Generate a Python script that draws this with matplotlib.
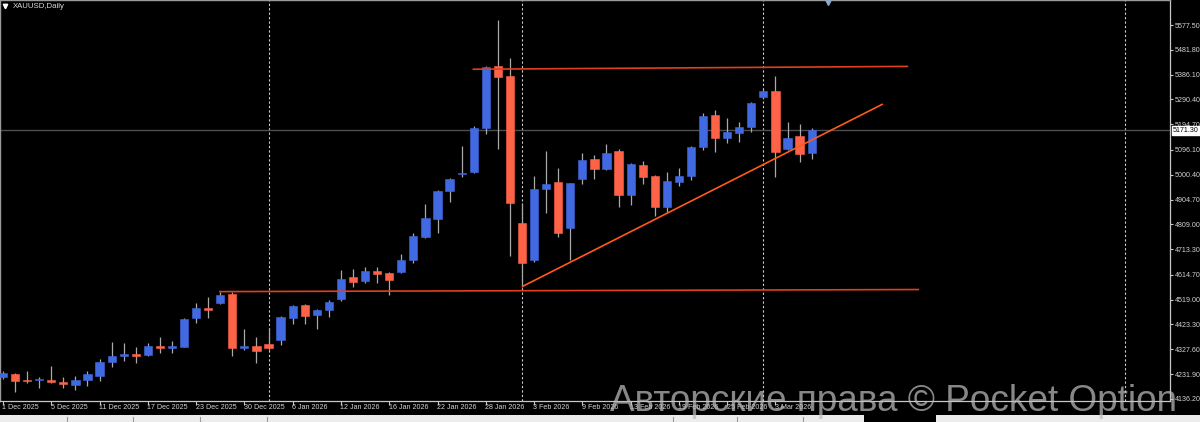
import matplotlib
matplotlib.use('Agg')
import matplotlib.pyplot as plt
import matplotlib.transforms as mtransforms
from matplotlib.patches import Rectangle

# ---------------- data (XAUUSD daily OHLC) ----------------
opens = [4221, 4232, 4206, 4209, 4209, 4200, 4190, 4209, 4225, 4280,
         4303, 4310, 4304, 4340, 4334, 4338, 4447, 4486, 4507, 4540,
         4334, 4339, 4349, 4363, 4450, 4497, 4459, 4479, 4520, 4605,
         4589, 4631, 4621, 4627, 4671, 4762, 4831, 4939, 5002, 5012,
         5179, 5421, 5382, 4816, 4672, 4944, 4971, 4794, 4983, 5060,
         5024, 5092, 4923, 5038, 4996, 4877, 4974, 4997, 5108, 5231,
         5143, 5160, 5186, 5299, 5323, 5101, 5150, 5085]
highs = [4244, 4238, 4245, 4222, 4263, 4222, 4225, 4245, 4289, 4356,
         4353, 4338, 4351, 4376, 4361, 4450, 4505, 4528, 4547, 4547,
         4406, 4374, 4409, 4456, 4498, 4502, 4483, 4518, 4633, 4636,
         4646, 4646, 4627, 4694, 4775, 4888, 4942, 4989, 5111, 5188,
         5420, 5597, 5449, 4890, 4996, 5093, 5025, 4968, 5085, 5076,
         5119, 5098, 5044, 5054, 4999, 5010, 5025, 5111, 5240, 5250,
         5218, 5205, 5282, 5331, 5382, 5205, 5195, 5179]
lows = [4213, 4164, 4197, 4177, 4197, 4177, 4171, 4186, 4207, 4258,
        4284, 4274, 4302, 4312, 4312, 4335, 4430, 4447, 4502, 4302,
        4325, 4276, 4325, 4344, 4425, 4424, 4407, 4453, 4515, 4569,
        4584, 4582, 4538, 4621, 4659, 4755, 4775, 4896, 4993, 5006,
        5157, 5098, 4687, 4566, 4665, 4852, 4759, 4670, 4965, 4985,
        5019, 4877, 4884, 4965, 4841, 4854, 4957, 4980, 5096, 5089,
        5122, 5128, 5166, 5296, 4993, 5096, 5051, 5061]
closes = [4236, 4207, 4205, 4210, 4200, 4193, 4209, 4231, 4280, 4303,
          4304, 4302, 4340, 4334, 4340, 4444, 4486, 4479, 4537, 4334,
          4339, 4322, 4334, 4451, 4495, 4456, 4480, 4510, 4600, 4587,
          4628, 4616, 4595, 4672, 4764, 4833, 4938, 4984, 5009, 5179,
          5417, 5376, 4893, 4659, 4945, 4964, 4777, 4967, 5057, 5024,
          5083, 4921, 5042, 4993, 4877, 4977, 4996, 5106, 5228, 5143,
          5165, 5183, 5278, 5323, 5087, 5141, 5082, 5171.3]

date_labels = ['1 Dec 2025', '5 Dec 2025', '11 Dec 2025', '17 Dec 2025',
               '23 Dec 2025', '30 Dec 2025', '6 Jan 2026', '12 Jan 2026',
               '16 Jan 2026', '22 Jan 2026', '28 Jan 2026', '3 Feb 2026',
               '9 Feb 2026', '13 Feb 2026', '19 Feb 2026', '25 Feb 2026',
               '3 Mar 2026']
date_label_idx = [0, 4, 8, 12, 16, 20, 24, 28, 32, 36, 40, 44, 48, 52, 56, 60, 64]

price_ticks = [5577.50, 5481.80, 5386.10, 5290.40, 5194.70, 5096.10, 5000.40,
               4904.70, 4809.00, 4713.30, 4614.70, 4519.00, 4423.30, 4327.60,
               4231.90, 4136.20]
current_price = 5171.30
separator_idx = [22, 43, 63, 93]

# drawn objects: (bar index, price) end points
support_line = [(17.9, 4550), (75.9, 4558)]
resistance_line = [(38.9, 5407), (75.0, 5418)]
trend_line = [(43.0, 4569), (72.9, 5273)]

symbol_title = 'XAUUSD,Daily'
watermark = 'Авторские права © Pocket Option'

# ---------------- styling ----------------
BG = '#000000'
BULL = '#4169e1'
BEAR = '#ff6347'
WICK = '#a8a8a8'
AXC = '#c8c8c8'
SMALL_FONT = ['Liberation Sans', 'DejaVu Sans']
SMALL_SIZE = 5.1

W, H = 1200, 422
fig = plt.figure(figsize=(W / 100, H / 100), dpi=100, facecolor=BG)
ax = fig.add_axes([0, 21 / H, 1170 / W, 401 / H], facecolor=BG)

ax.set_xlim(-0.2486, 96.69)
ax.set_ylim(4128.4, 5673.85)

# separators
for s in separator_idx:
    ax.axvline(s, color='#cfcfcf', lw=0.8, ls=(0, (2, 2)), zorder=1)

# current price line
ax.axhline(current_price, color='#4e4e4e', lw=1.0, zorder=1)

# candles
bw = 0.68
for i, (o, h, l, c) in enumerate(zip(opens, highs, lows, closes)):
    col = BULL if c >= o else BEAR
    ax.vlines(i, l, h, color=WICK, lw=0.9, zorder=2)
    bottom = min(o, c)
    height = max(abs(c - o), 5)
    ax.add_patch(Rectangle((i - bw / 2, bottom), bw, height, facecolor=col,
                           edgecolor=col, lw=0.4, zorder=3))

# drawn lines
for line, col in ((support_line, '#e0401c'), (resistance_line, '#e0401c'),
                  (trend_line, '#ff5a1a')):
    (x0, y0), (x1, y1) = line
    ax.plot([x0, x1], [y0, y1], color=col, lw=1.2, zorder=4,
            solid_capstyle='butt')

# axes frame
for side in ('top', 'left'):
    ax.spines[side].set_color('#9a9a9a')
    ax.spines[side].set_linewidth(1.0)
for side in ('bottom', 'right'):
    ax.spines[side].set_color(AXC)
    ax.spines[side].set_linewidth(0.9)

# price axis
ax.yaxis.tick_right()
ax.set_yticks(price_ticks)
ax.set_yticklabels([f'{v:.2f}' for v in price_ticks])
ax.tick_params(axis='y', length=2.5, width=0.8, color=AXC, labelcolor='#d4d4d4',
               labelsize=SMALL_SIZE, pad=1.0)
for lbl in ax.get_yticklabels():
    lbl.set_fontfamily(SMALL_FONT)

# date axis
ax.set_xticks(date_label_idx)
ax.set_xticklabels([])
ax.tick_params(axis='x', length=3, width=0.8, color=AXC, direction='out')
tx = mtransforms.blended_transform_factory(ax.transData, ax.transAxes)
for idx, lab in zip(date_label_idx, date_labels):
    ax.text(idx - 0.05, -0.008, lab, transform=tx, ha='left', va='top',
            fontsize=SMALL_SIZE, color='#d4d4d4', family=SMALL_FONT, clip_on=False)

# current price box
ty = mtransforms.blended_transform_factory(ax.transAxes, ax.transData)
ax.text(1.0 + 3 / 1170, current_price, f'{current_price:.2f}', transform=ty,
        ha='left', va='center', fontsize=SMALL_SIZE, color='black', family=SMALL_FONT,
        bbox=dict(boxstyle='square,pad=0.12', fc='white', ec='white'),
        zorder=10, clip_on=False)

# title
fig.text(13 / W, 1 - 6.5 / H, symbol_title, ha='left', va='center', fontsize=5.6,
         color='#dcdcdc', family=SMALL_FONT)
fig.lines.append(plt.Line2D([5 / W], [1 - 6 / H], marker='v', ms=3.2,
                            color='white', transform=fig.transFigure))
fig.lines.append(plt.Line2D([828 / W], [1 - 1.5 / H], marker='v', ms=4,
                            color='#8fa8c8', transform=fig.transFigure))

# bottom tab strip
fig.patches.append(Rectangle((0, 0), 864 / W, 7 / H, transform=fig.transFigure,
                             facecolor='#ececec', edgecolor='none'))
fig.patches.append(Rectangle((936 / W, 0), 264 / W, 7 / H, transform=fig.transFigure,
                             facecolor='#ececec', edgecolor='none'))
for xp in (67, 133, 200, 267, 673, 737, 803):
    fig.lines.append(plt.Line2D([xp / W, xp / W], [0, 5 / H], color='#9a9a9a',
                                lw=0.8, transform=fig.transFigure))

# watermark
fig.text(610 / W, 11 / H, watermark, ha='left', va='baseline', fontsize=26.6,
         color='#bdbdbd', alpha=0.72, family=['Liberation Sans', 'DejaVu Sans'])

fig.savefig('out.png', dpi=100, facecolor=BG)
